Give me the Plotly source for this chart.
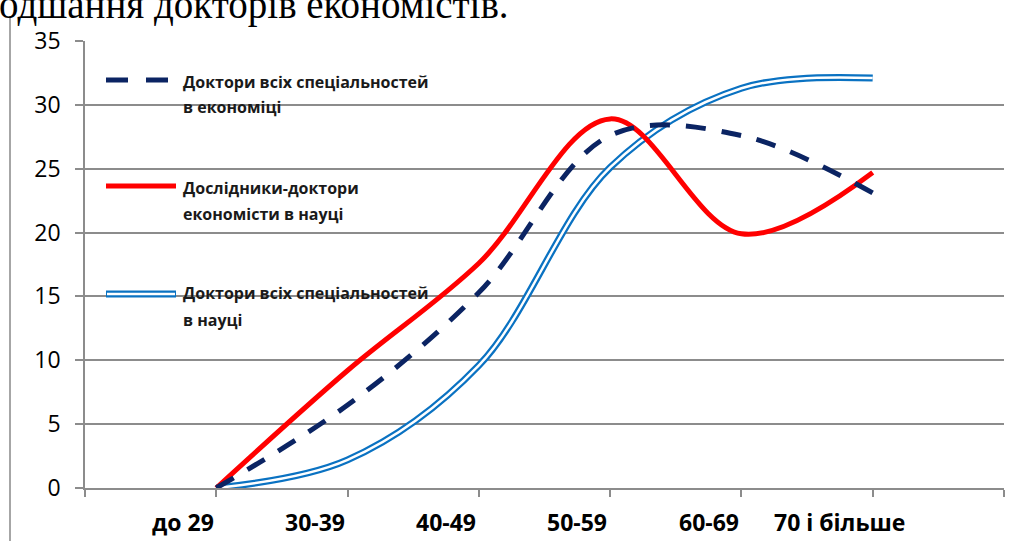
import plotly.graph_objects as go

categories = ["до 29", "30-39", "40-49", "50-59", "60-69", "70 і більше"]
econ_all = [0.0, 6.5, 15.3, 27.6, 27.6, 23.1]
econ_research = [0.0, 9.2, 17.6, 28.9, 19.9, 24.7]
science_all = [0.0, 2.2, 9.6, 25.1, 31.3, 32.1]
y_ticks = [0, 5, 10, 15, 20, 25, 30, 35]

names = [["Доктори всіх спеціальностей", "в економіці"],
         ["Дослідники-доктори", "економісти в науці"],
         ["Доктори всіх спеціальностей", "в науці"]]
heading = "одшання докторів економістів."

xs = list(range(1, len(categories) + 1))
W, H = 1021, 541
L, R, T, B = 85, 17, 41, 53
pw, ph = W - L - R, H - T - B

def px(x):
    return (x - L) / pw

def py(y):
    return (H - B - y) / ph

NAVY = "#0b2463"
RED = "#ff0000"
BLUE = "#0a72c2"
TXT = "#1a1a1a"
FONT = "Liberation Sans Narrow, Open Sans, Arial"

fig = go.Figure()
fig.add_trace(go.Scatter(x=xs, y=science_all, mode="lines", line=dict(color=BLUE, width=7, shape="spline", smoothing=1), hoverinfo="skip"))
fig.add_trace(go.Scatter(x=xs, y=science_all, mode="lines", line=dict(color="white", width=2.5, shape="spline", smoothing=1), hoverinfo="skip"))
fig.add_trace(go.Scatter(x=xs, y=econ_research, mode="lines", line=dict(color=RED, width=5, shape="spline", smoothing=1), hoverinfo="skip"))
fig.add_trace(go.Scatter(x=xs, y=econ_all, mode="lines", line=dict(color=NAVY, width=5, shape="spline", smoothing=1, dash="20px,16px"), hoverinfo="skip"))

shapes = []
annotations = []
# legend samples
leg_y = [80, 186, 294]
shapes.append(dict(type="line", xref="paper", yref="paper", x0=px(106), x1=px(170), y0=py(leg_y[0]), y1=py(leg_y[0]),
                   line=dict(color=NAVY, width=5, dash="22px,18px")))
shapes.append(dict(type="line", xref="paper", yref="paper", x0=px(106), x1=px(176), y0=py(leg_y[1]), y1=py(leg_y[1]),
                   line=dict(color=RED, width=5)))
shapes.append(dict(type="line", xref="paper", yref="paper", x0=px(106), x1=px(176), y0=py(leg_y[2]), y1=py(leg_y[2]),
                   line=dict(color=BLUE, width=7)))
shapes.append(dict(type="line", xref="paper", yref="paper", x0=px(107), x1=px(175), y0=py(leg_y[2]), y1=py(leg_y[2]),
                   line=dict(color="white", width=2.5)))
text_y = [(82, 107), (188, 214), (293, 320)]
for nm, (y1, y2) in zip(names, text_y):
    for line_txt, yy in zip(nm, (y1, y2)):
        annotations.append(dict(xref="paper", yref="paper", x=px(181), y=py(yy), xanchor="left", yanchor="middle",
                                text="<b>" + line_txt + "</b>", showarrow=False,
                                font=dict(family=FONT, size=16, color=TXT)))
# category labels
for c, x in zip(categories, xs):
    annotations.append(dict(xref="x", yref="paper", x=x - 0.25, y=py(522), xanchor="center", yanchor="middle",
                            text="<b>" + c + "</b>", showarrow=False,
                            font=dict(family=FONT, size=23, color="#000000")))
# heading text (cut at top, as in the source)
annotations.append(dict(xref="paper", yref="paper", x=px(-3), y=py(5), xanchor="left", yanchor="middle",
                        text=heading, showarrow=False,
                        font=dict(family="Liberation Serif, Times New Roman, serif", size=39, color="#000000")))
# page border line
shapes.append(dict(type="line", xref="paper", yref="paper", x0=px(10), x1=px(10), y0=py(16), y1=py(545),
                   line=dict(color="#a6a6a6", width=2)))

fig.update_layout(
    width=W, height=H,
    margin=dict(l=L, r=R, t=T, b=B),
    paper_bgcolor="white", plot_bgcolor="white",
    showlegend=False,
    shapes=shapes, annotations=annotations,
    xaxis=dict(range=[0, 7], tickvals=list(range(0, 8)), showticklabels=False,
               showgrid=False, zeroline=False, showline=True, linecolor="#8c8c8c", linewidth=1.5,
               ticks="outside", ticklen=7, tickcolor="#8c8c8c", tickwidth=1.5),
    yaxis=dict(range=[0, 35], tickvals=y_ticks, showgrid=True, gridcolor="#8c8c8c", gridwidth=1.5,
               zeroline=False, showline=True, linecolor="#8c8c8c", linewidth=1.5,
               ticks="outside", ticklen=8, tickcolor="#8c8c8c", tickwidth=1.5, ticklabelstandoff=10,
               tickfont=dict(family=FONT, size=23, color="#000000")),
)
fig.write_html("out.html", config={"displayModeBar": False},
               post_script="document.body.style.margin='0';document.body.style.overflow='hidden';")
